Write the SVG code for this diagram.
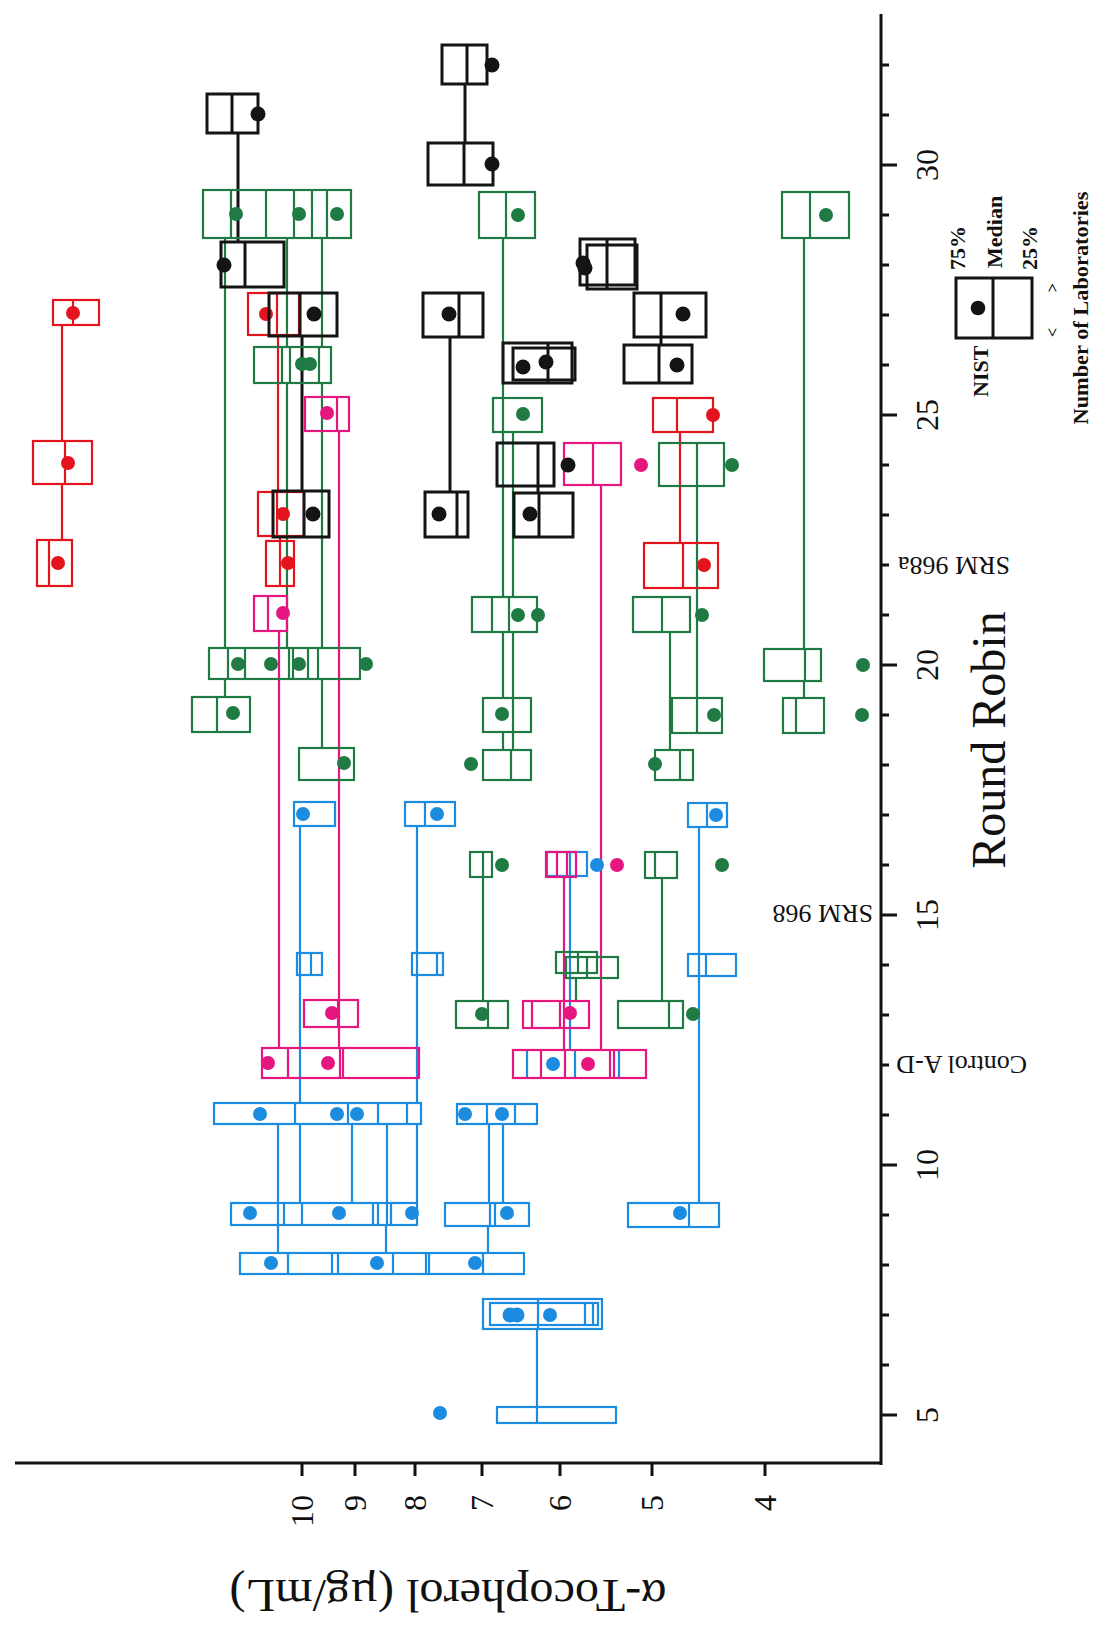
<svg xmlns="http://www.w3.org/2000/svg" width="1095" height="1626" viewBox="0 0 1095 1626">
<style>
.bk{stroke:#141414;stroke-width:3;fill:none}
.rd{stroke:#e3141d;stroke-width:2.2;fill:none}
.pk{stroke:#e5167f;stroke-width:2.2;fill:none}
.gn{stroke:#1f7a44;stroke-width:2.2;fill:none}
.bl{stroke:#1c8ce0;stroke-width:2.2;fill:none}
.fbk{fill:#141414}.frd{fill:#e3141d}.fpk{fill:#e5167f}.fgn{fill:#1f7a44}.fbl{fill:#1c8ce0}
.ax{stroke:#111;stroke-width:3;fill:none}
.t{font-family:"Liberation Serif","Times New Roman",serif;fill:#111}
.tl{font-size:32px}
.lg{font-size:22px;font-weight:bold}
.sm{font-size:26px}
</style>
<rect width="1095" height="1626" fill="#fff"/>

<g id="axes">
<path class="ax" d="M881,14V1465M15,1463H882"/>
<path class="ax" d="M881,1415h16M881,1365h8M881,1315h8M881,1265h8M881,1215h8M881,1165h16M881,1115h8M881,1065h8M881,1015h8M881,965h8M881,915h16M881,865h8M881,815h8M881,765h8M881,715h8M881,665h16M881,615h8M881,565h8M881,515h8M881,465h8M881,415h16M881,365h8M881,315h8M881,265h8M881,215h8M881,165h16M881,115h8M881,65h8"/>
<path class="ax" d="M302,1463v13M355,1463v13M415,1463v13M482,1463v13M560,1463v13M652,1463v13M765,1463v13"/>
</g>

<g id="axis-labels">
<text class="t tl" transform="translate(313,1495) rotate(-90)" text-anchor="end">10</text>
<text class="t tl" transform="translate(366,1495) rotate(-90)" text-anchor="end">9</text>
<text class="t tl" transform="translate(426,1495) rotate(-90)" text-anchor="end">8</text>
<text class="t tl" transform="translate(493,1495) rotate(-90)" text-anchor="end">7</text>
<text class="t tl" transform="translate(571,1495) rotate(-90)" text-anchor="end">6</text>
<text class="t tl" transform="translate(663,1495) rotate(-90)" text-anchor="end">5</text>
<text class="t tl" transform="translate(776,1495) rotate(-90)" text-anchor="end">4</text>
<text class="t tl" transform="translate(938,1415) rotate(-90)" text-anchor="middle">5</text>
<text class="t tl" transform="translate(938,1165) rotate(-90)" text-anchor="middle">10</text>
<text class="t tl" transform="translate(938,915) rotate(-90)" text-anchor="middle">15</text>
<text class="t tl" transform="translate(938,665) rotate(-90)" text-anchor="middle">20</text>
<text class="t tl" transform="translate(938,415) rotate(-90)" text-anchor="middle">25</text>
<text class="t tl" transform="translate(938,165) rotate(-90)" text-anchor="middle">30</text>
<text class="t sm" transform="translate(873,905) rotate(180)">SRM 968</text>
<text class="t sm" transform="translate(1010,557) rotate(180)">SRM 968a</text>
<text class="t sm" transform="translate(1027,1056) rotate(180)">Control A-D</text>
<text class="t" font-size="48" transform="translate(1005,740) rotate(-90)" text-anchor="middle">Round Robin</text>
<text class="t" font-size="47" transform="translate(448,1580) rotate(180)" text-anchor="middle" textLength="437" lengthAdjust="spacingAndGlyphs">α-Tocopherol (µg/mL)</text>
</g>

<g id="legend">
<rect class="bk" x="956" y="278" width="76" height="60"/>
<path class="bk" d="M993,278V338"/>
<circle class="fbk" cx="978" cy="308" r="7.3"/>
<text class="t lg" transform="translate(965,270) rotate(-90)">75%</text>
<text class="t lg" transform="translate(1002,268) rotate(-90)">Median</text>
<text class="t lg" transform="translate(1037,270) rotate(-90)">25%</text>
<text class="t lg" transform="translate(988,397) rotate(-90)">NIST</text>
<text class="t" font-size="16" font-weight="bold" transform="translate(1058,337) rotate(-90)" textLength="54" lengthAdjust="spacing">&lt;      &gt;</text>
<text class="t lg" transform="translate(1088,308) rotate(-90)" text-anchor="middle" textLength="233" lengthAdjust="spacingAndGlyphs">Number of Laboratories</text>
</g>

<g id="connectors">
<path class="bk" d="M238,133V242M465,84V143M302,336V491M450,337V492M661,337V345M538,486V493"/>
<path class="rd" d="M62,325V441M62,484V540M278,335V492M280,536V541M680,432V543"/>
<path class="pk" d="M339,431V1048M279,631V1048M601,485V1050M564,877V1050"/>
<path class="gn" d="M225,238V648M225,679V697M287,238V347M287,383V648M322,238V347M322,383V648M322,679V748M503,238V398M503,432V597M513,432V597M503,632V698M513,632V698M503,732V750M513,732V750M697,486V698M670,632V750M804,238V649M804,681V698M483,877V1001M662,878V1001M576,978V1001"/>
<path class="bl" d="M300,826V1103M417,826V1103M699,827V1203M570,876V1050M278,1124V1203M300,1124V1203M352,1124V1203M387,1124V1203M417,1124V1203M489,1124V1203M503,1124V1203M278,1225V1253M386,1225V1253M488,1226V1253M537,1329V1407"/>
</g>

<g id="green-boxes">
<g id="g29a"><rect class="gn" x="203" y="190" width="148" height="48"/><path class="gn" d="M231,190V238M266,190V238M294,190V238M312,190V238M327,190V238"/><circle class="fgn" cx="236" cy="214" r="7"/><circle class="fgn" cx="299" cy="214" r="7"/><circle class="fgn" cx="337" cy="214" r="7"/></g>
<g id="g29b"><rect class="gn" x="479" y="192" width="56" height="46"/><path class="gn" d="M506,192V238"/><circle class="fgn" cx="518" cy="215" r="7"/></g>
<g id="g29c"><rect class="gn" x="782" y="192" width="67" height="46"/><path class="gn" d="M810,192V238"/><circle class="fgn" cx="826" cy="215" r="7"/></g>
<g id="g26"><rect class="gn" x="254" y="347" width="77" height="36"/><path class="gn" d="M282,347V383M290,347V383M319,347V383"/><circle class="fgn" cx="302" cy="364" r="7"/><circle class="fgn" cx="310" cy="364" r="7"/></g>
<g id="g25"><rect class="gn" x="493" y="398" width="49" height="34"/><path class="gn" d="M503,398V432"/><circle class="fgn" cx="523" cy="414" r="7"/></g>
<g id="g24"><rect class="gn" x="659" y="443" width="65" height="43"/><path class="gn" d="M697,443V486"/><circle class="fgn" cx="732" cy="465" r="7"/></g>
<g id="g21a"><rect class="gn" x="472" y="597" width="65" height="35"/><path class="gn" d="M492,597V632M509,597V632"/><circle class="fgn" cx="518" cy="615" r="7"/><circle class="fgn" cx="538" cy="615" r="7"/></g>
<g id="g21b"><rect class="gn" x="633" y="597" width="57" height="35"/><path class="gn" d="M662,597V632"/><circle class="fgn" cx="702" cy="615" r="7"/></g>
<g id="g20a"><rect class="gn" x="209" y="648" width="151" height="31"/><path class="gn" d="M228,648V679M245,648V679M289,648V679M293,648V679M308,648V679M318,648V679"/><circle class="fgn" cx="238" cy="664" r="7"/><circle class="fgn" cx="271" cy="664" r="7"/><circle class="fgn" cx="299" cy="664" r="7"/><circle class="fgn" cx="366" cy="664" r="7"/></g>
<g id="g20b"><rect class="gn" x="764" y="649" width="57" height="32"/><path class="gn" d="M805,649V681"/><circle class="fgn" cx="863" cy="665" r="7"/></g>
<g id="g19a"><rect class="gn" x="192" y="697" width="58" height="35"/><path class="gn" d="M217,697V732"/><circle class="fgn" cx="233" cy="713" r="7"/></g>
<g id="g19b"><rect class="gn" x="483" y="698" width="48" height="34"/><path class="gn" d="M513,698V732"/><circle class="fgn" cx="502" cy="714" r="7"/></g>
<g id="g19c"><rect class="gn" x="672" y="698" width="50" height="35"/><path class="gn" d="M697,698V733"/><circle class="fgn" cx="714" cy="715" r="7"/></g>
<g id="g19d"><rect class="gn" x="783" y="698" width="41" height="35"/><path class="gn" d="M796,698V733"/><circle class="fgn" cx="862" cy="715" r="7"/></g>
<g id="g18a"><rect class="gn" x="299" y="748" width="55" height="32"/><circle class="fgn" cx="344" cy="763" r="7"/></g>
<g id="g18b"><rect class="gn" x="483" y="750" width="48" height="30"/><path class="gn" d="M511,750V780"/><circle class="fgn" cx="471" cy="764" r="7"/></g>
<g id="g18c"><rect class="gn" x="655" y="750" width="38" height="30"/><path class="gn" d="M680,750V780"/><circle class="fgn" cx="655" cy="764" r="7"/></g>
<g id="g16a"><rect class="gn" x="470" y="852" width="22" height="25"/><path class="gn" d="M483,852V877"/><circle class="fgn" cx="502" cy="865" r="7"/></g>
<g id="g16b"><rect class="gn" x="645" y="852" width="32" height="26"/><path class="gn" d="M655,852V878"/><circle class="fgn" cx="722" cy="865" r="7"/></g>
<g id="g14a"><rect class="gn" x="556" y="952" width="41" height="21"/><path class="gn" d="M578,952V973"/></g>
<g id="g14b"><rect class="gn" x="566" y="957" width="52" height="21"/><path class="gn" d="M587,957V978"/></g>
<g id="g13a"><rect class="gn" x="456" y="1001" width="52" height="27"/><path class="gn" d="M488,1001V1028"/><circle class="fgn" cx="482" cy="1014" r="7"/></g>
<g id="g13b"><rect class="gn" x="618" y="1001" width="65" height="27"/><path class="gn" d="M669,1001V1028"/><circle class="fgn" cx="693" cy="1014" r="7"/></g>
</g>

<g id="blue-boxes">
<g id="u17a"><rect class="bl" x="294" y="802" width="41" height="24"/><circle class="fbl" cx="303" cy="814" r="7"/></g>
<g id="u17b"><rect class="bl" x="405" y="802" width="50" height="24"/><path class="bl" d="M425,802V826"/><circle class="fbl" cx="437" cy="814" r="7"/></g>
<g id="u17c"><rect class="bl" x="688" y="803" width="39" height="24"/><path class="bl" d="M707,803V827"/><circle class="fbl" cx="716" cy="815" r="7"/></g>
<g id="u16"><rect class="bl" x="547" y="852" width="40" height="24"/><path class="bl" d="M570,852V876"/><circle class="fbl" cx="597" cy="865" r="7"/></g>
<g id="u14a"><rect class="bl" x="297" y="953" width="25" height="22"/><path class="bl" d="M311,953V975"/></g>
<g id="u14b"><rect class="bl" x="412" y="953" width="31" height="22"/><path class="bl" d="M437,953V975"/></g>
<g id="u14c"><rect class="bl" x="688" y="954" width="48" height="22"/><path class="bl" d="M706,954V976"/></g>
<g id="u12"><path class="bl" d="M527,1050V1078M575,1050V1078M619,1050V1078"/><circle class="fbl" cx="553" cy="1064" r="7"/></g>
<g id="u11a"><rect class="bl" x="214" y="1103" width="207" height="21"/><path class="bl" d="M295,1103V1124M348,1103V1124M378,1103V1124M407,1103V1124"/><circle class="fbl" cx="260" cy="1114" r="7"/><circle class="fbl" cx="337" cy="1114" r="7"/><circle class="fbl" cx="357" cy="1114" r="7"/></g>
<g id="u11b"><rect class="bl" x="457" y="1104" width="80" height="20"/><path class="bl" d="M487,1104V1124M515,1104V1124"/><circle class="fbl" cx="465" cy="1114" r="7"/><circle class="fbl" cx="502" cy="1114" r="7"/></g>
<g id="u9a"><rect class="bl" x="231" y="1203" width="186" height="22"/><path class="bl" d="M278,1203V1225M284,1203V1225M302,1203V1225M373,1203V1225M378,1203V1225M387,1203V1225M391,1203V1225"/><circle class="fbl" cx="250" cy="1213" r="7"/><circle class="fbl" cx="339" cy="1213" r="7"/><circle class="fbl" cx="412" cy="1213" r="7"/></g>
<g id="u9b"><rect class="bl" x="445" y="1203" width="84" height="23"/><path class="bl" d="M490,1203V1226M495,1203V1226"/><circle class="fbl" cx="507" cy="1213" r="7"/></g>
<g id="u9c"><rect class="bl" x="628" y="1203" width="91" height="24"/><path class="bl" d="M689,1203V1227"/><circle class="fbl" cx="680" cy="1213" r="7"/></g>
<g id="u8"><rect class="bl" x="240" y="1253" width="284" height="21"/><path class="bl" d="M288,1253V1274M332,1253V1274M338,1253V1274M393,1253V1274M426,1253V1274M429,1253V1274M483,1253V1274"/><circle class="fbl" cx="271" cy="1263" r="7"/><circle class="fbl" cx="377" cy="1263" r="7"/><circle class="fbl" cx="475" cy="1263" r="7"/></g>
<g id="u7"><rect class="bl" x="483" y="1299" width="119" height="30"/><rect class="bl" x="490" y="1303" width="108" height="22"/><path class="bl" d="M538,1299V1329M585,1303V1325M593,1303V1325"/><circle class="fbl" cx="510" cy="1315" r="7.5"/><circle class="fbl" cx="517" cy="1315" r="7.5"/><circle class="fbl" cx="550" cy="1315" r="7"/></g>
<g id="u5"><rect class="bl" x="497" y="1407" width="119" height="16"/><path class="bl" d="M537,1407V1423"/><circle class="fbl" cx="440" cy="1413" r="7"/></g>
</g>

<g id="pink-boxes">
<g id="p25"><rect class="pk" x="305" y="397" width="44" height="34"/><path class="pk" d="M337,397V431"/><circle class="fpk" cx="327" cy="413" r="7"/></g>
<g id="p24"><rect class="pk" x="564" y="443" width="57" height="42"/><path class="pk" d="M593,443V485"/><circle class="fpk" cx="641" cy="465" r="7"/></g>
<g id="p21"><rect class="pk" x="254" y="596" width="33" height="35"/><path class="pk" d="M268,596V631"/><circle class="fpk" cx="283" cy="613" r="7"/></g>
<g id="p16"><rect class="pk" x="546" y="852" width="30" height="25"/><path class="pk" d="M557,852V877M567,852V877"/><circle class="fpk" cx="617" cy="865" r="7"/></g>
<g id="p13a"><rect class="pk" x="304" y="1000" width="54" height="27"/><path class="pk" d="M338,1000V1027"/><circle class="fpk" cx="332" cy="1013" r="7"/></g>
<g id="p13b"><rect class="pk" x="523" y="1001" width="66" height="27"/><path class="pk" d="M532,1001V1028M560,1001V1028"/><circle class="fpk" cx="570" cy="1013" r="7"/></g>
<g id="p12a"><rect class="pk" x="262" y="1048" width="157" height="30"/><path class="pk" d="M288,1048V1078M340,1048V1078M343,1048V1078"/><circle class="fpk" cx="268" cy="1063" r="7"/><circle class="fpk" cx="328" cy="1063" r="7"/></g>
<g id="p12b"><rect class="pk" x="513" y="1050" width="133" height="28"/><path class="pk" d="M541,1050V1078M565,1050V1078M610,1050V1078M614,1050V1078"/><circle class="fpk" cx="588" cy="1064" r="7"/></g>
</g>

<g id="red-boxes">
<g id="r27a"><rect class="rd" x="53" y="300" width="46" height="25"/><path class="rd" d="M73,300V325"/><circle class="frd" cx="73" cy="313" r="7"/></g>
<g id="r24"><rect class="rd" x="33" y="441" width="59" height="43"/><path class="rd" d="M65,441V484"/><circle class="frd" cx="68" cy="463" r="7"/></g>
<g id="r22a"><rect class="rd" x="37" y="540" width="35" height="46"/><path class="rd" d="M49,540V586"/><circle class="frd" cx="58" cy="563" r="7"/></g>
<g id="r27b"><rect class="rd" x="248" y="293" width="51" height="42"/><path class="rd" d="M277,293V335"/><circle class="frd" cx="266" cy="314" r="7"/></g>
<g id="r23"><rect class="rd" x="258" y="492" width="46" height="44"/><path class="rd" d="M277,492V536"/><circle class="frd" cx="283" cy="514" r="7"/></g>
<g id="r22b"><rect class="rd" x="266" y="541" width="28" height="45"/><path class="rd" d="M280,541V586"/><circle class="frd" cx="288" cy="563" r="7"/></g>
<g id="r25"><rect class="rd" x="653" y="398" width="60" height="34"/><path class="rd" d="M677,398V432"/><circle class="frd" cx="713" cy="415" r="7"/></g>
<g id="r22c"><rect class="rd" x="644" y="543" width="74" height="45"/><path class="rd" d="M683,543V588"/><circle class="frd" cx="704" cy="565" r="7"/></g>
</g>

<g id="black-boxes">
<g id="k32"><rect class="bk" x="442" y="45" width="45" height="39"/><path class="bk" d="M467,45V84"/><circle class="fbk" cx="492" cy="65" r="7.5"/></g>
<g id="k31"><rect class="bk" x="207" y="94" width="51" height="39"/><path class="bk" d="M232,94V133"/><circle class="fbk" cx="258" cy="114" r="7.5"/></g>
<g id="k30"><rect class="bk" x="428" y="143" width="65" height="42"/><path class="bk" d="M464,143V185"/><circle class="fbk" cx="492" cy="164" r="7.5"/></g>
<g id="k28a"><rect class="bk" x="221" y="242" width="63" height="45"/><path class="bk" d="M245,242V287"/><circle class="fbk" cx="224" cy="265" r="7.5"/></g>
<g id="k28b"><rect class="bk" x="580" y="239" width="55" height="46"/><rect class="bk" x="587" y="245" width="50" height="44"/><path class="bk" d="M607,239V289"/><circle class="fbk" cx="583" cy="263" r="7.5"/><circle class="fbk" cx="585" cy="268" r="7.5"/></g>
<g id="k27a"><rect class="bk" x="269" y="293" width="68" height="43"/><path class="bk" d="M300,293V336"/><circle class="fbk" cx="314" cy="314" r="7.5"/></g>
<g id="k27b"><rect class="bk" x="423" y="293" width="60" height="44"/><path class="bk" d="M459,293V337"/><circle class="fbk" cx="449" cy="314" r="7.5"/></g>
<g id="k27c"><rect class="bk" x="634" y="293" width="72" height="44"/><path class="bk" d="M661,293V337"/><circle class="fbk" cx="683" cy="314" r="7.5"/></g>
<g id="k26a"><rect class="bk" x="503" y="343" width="69" height="40"/><rect class="bk" x="513" y="348" width="62" height="32"/><path class="bk" d="M548,343V383"/><circle class="fbk" cx="523" cy="367" r="7.5"/><circle class="fbk" cx="546" cy="362" r="7.5"/></g>
<g id="k26b"><rect class="bk" x="624" y="345" width="68" height="38"/><path class="bk" d="M659,345V383"/><circle class="fbk" cx="677" cy="365" r="7.5"/></g>
<g id="k24"><rect class="bk" x="497" y="443" width="57" height="43"/><path class="bk" d="M538,443V486"/><circle class="fbk" cx="568" cy="465" r="7.5"/></g>
<g id="k23a"><rect class="bk" x="273" y="491" width="56" height="46"/><path class="bk" d="M304,491V537"/><circle class="fbk" cx="313" cy="514" r="7.5"/></g>
<g id="k23b"><rect class="bk" x="425" y="492" width="43" height="45"/><path class="bk" d="M457,492V537"/><circle class="fbk" cx="439" cy="514" r="7.5"/></g>
<g id="k23c"><rect class="bk" x="514" y="493" width="59" height="44"/><path class="bk" d="M539,493V537"/><circle class="fbk" cx="530" cy="514" r="7.5"/></g>
</g>
</svg>
